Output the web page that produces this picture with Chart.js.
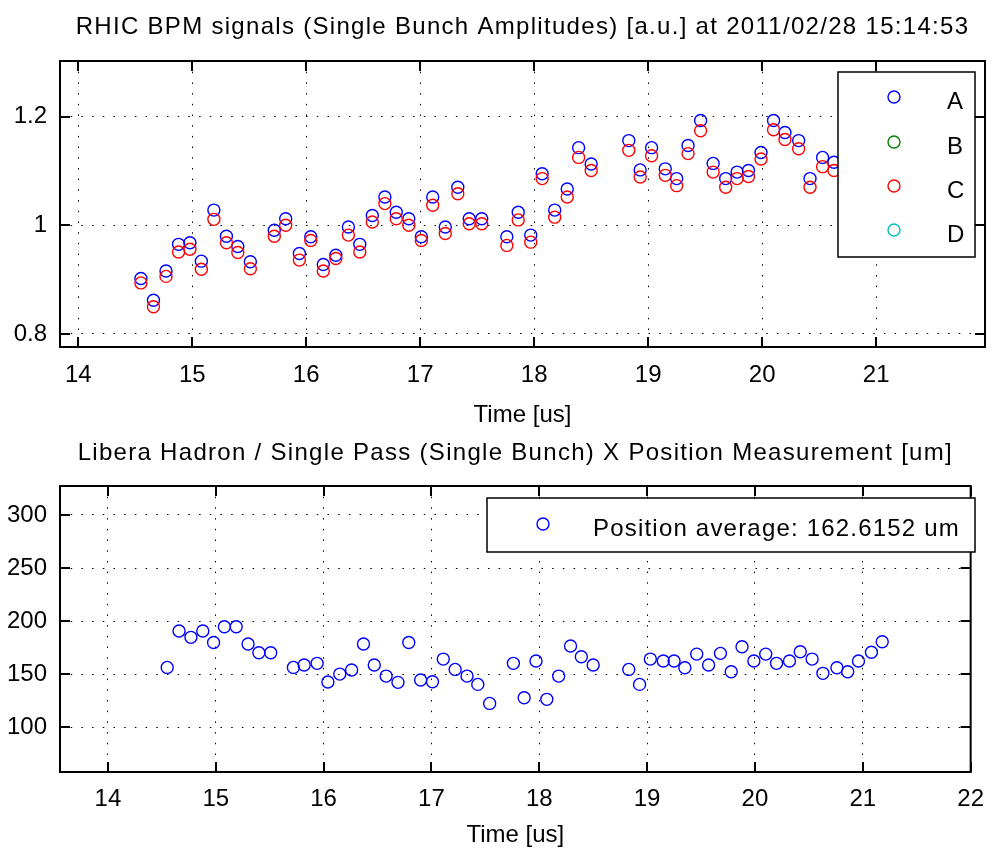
<!DOCTYPE html>
<html>
<head>
<meta charset="utf-8">
<script src="https://cdn.jsdelivr.net/npm/chart.js@4.4.1/dist/chart.umd.min.js"></script>
<style>
  html, body { margin: 0; padding: 0; background: #fff; }
  #wrap { position: relative; width: 997px; height: 859px; background: #fff; }
  canvas { position: absolute; left: 0; }
</style>
</head>
<body>
<div id="wrap">
  <canvas id="c1" width="997" height="430" style="top:0px"></canvas>
  <canvas id="c2" width="997" height="429" style="top:430px"></canvas>
</div>
<script>
// ---------------- data ----------------
const topTitle = 'RHIC BPM signals (Single Bunch Amplitudes) [a.u.] at 2011/02/28 15:14:53';
const bottomTitle = 'Libera Hadron / Single Pass (Single Bunch) X Position Measurement [um]';
const xAxisTitle = 'Time [us]';

// bunch times [us]
const times = [
  14.55, 14.66, 14.77, 14.88, 14.98, 15.08, 15.19, 15.30, 15.40, 15.51,
  15.72, 15.82, 15.94, 16.04, 16.15, 16.26, 16.37, 16.47, 16.58, 16.69,
  16.79, 16.90, 17.01, 17.11, 17.22, 17.33, 17.43, 17.54, 17.76, 17.86,
  17.97, 18.07, 18.18, 18.29, 18.39, 18.50, 18.83, 18.93, 19.03, 19.15,
  19.25, 19.35, 19.46, 19.57, 19.68, 19.78, 19.88, 19.99, 20.10, 20.20,
  20.32, 20.42, 20.53, 20.63, 20.76, 20.86, 20.96, 21.08, 21.18
];

// BPM amplitudes (last points hidden behind the legend -> null)
const ampA = [
  0.902, 0.862, 0.916, 0.965, 0.968, 0.934, 1.028, 0.980, 0.961, 0.933,
  0.991, 1.012, 0.948, 0.979, 0.928, 0.945, 0.997, 0.965, 1.018, 1.052,
  1.024, 1.012, 0.979, 1.052, 0.997, 1.070, 1.012, 1.012, 0.979, 1.024,
  0.982, 1.095, 1.028, 1.067, 1.143, 1.113, 1.156, 1.102, 1.143, 1.104,
  1.086, 1.147, 1.193, 1.114, 1.086, 1.098, 1.101, 1.134, 1.193, 1.171,
  1.156, 1.086, 1.125, 1.116, null, null, null, null, null
];
const ampB = [];   // not visible in the plot
const ampC = [
  0.894, 0.850, 0.906, 0.951, 0.956, 0.919, 1.011, 0.968, 0.950, 0.920,
  0.980, 1.000, 0.936, 0.972, 0.916, 0.939, 0.982, 0.951, 1.006, 1.040,
  1.012, 1.000, 0.972, 1.037, 0.985, 1.058, 1.003, 1.003, 0.963, 1.010,
  0.969, 1.086, 1.015, 1.052, 1.125, 1.101, 1.138, 1.089, 1.128, 1.092,
  1.073, 1.132, 1.174, 1.098, 1.070, 1.086, 1.090, 1.122, 1.176, 1.158,
  1.141, 1.070, 1.108, 1.101, null, null, null, null, null
];
const ampD = [];   // not visible in the plot
const seriesLabels = ['A', 'B', 'C', 'D'];

// X position [um]
const positionX = [
  156.5, 190.7, 184.8, 190.7, 180.0, 194.8, 194.8, 178.5, 170.3, 170.3,
  156.5, 158.7, 160.3, 142.7, 150.2, 154.0, 178.5, 158.7, 148.3, 142.4,
  180.0, 144.6, 143.0, 164.3, 154.6, 148.3, 140.5, 122.6, 160.3, 127.9,
  162.5, 126.4, 148.3, 176.6, 166.5, 158.7, 154.6, 140.5, 164.3, 162.5,
  162.5, 156.2, 169.0, 158.7, 169.7, 152.4, 176.0, 162.5, 169.0, 160.3,
  162.5, 171.2, 164.3, 150.9, 156.2, 152.4, 162.5, 170.7, 180.6
];
const positionLabel = 'Position average: 162.6152 um';

// tick labels
const topXTicks = [14, 15, 16, 17, 18, 19, 20, 21];
const topYTicks = [0.8, 1.0, 1.2];
const botXTicks = [14, 15, 16, 17, 18, 19, 20, 21, 22];
const botYTicks = [100, 150, 200, 250, 300];

// ---------------- helpers ----------------
const pts = arr => arr.map((v, i) => ({ x: times[i], y: v }));
const FONT = '"Liberation Sans", Arial, Helvetica, sans-serif';
Chart.defaults.font.family = FONT;
Chart.defaults.font.size = 24;
Chart.defaults.color = '#000';

// wider letter spacing for the chart title only
const spacingPlugin = {
  id: 'spacing',
  beforeDraw(chart) {
    const tb = chart.titleBlock;
    if (tb && !tb._spaced) {
      const orig = tb.draw;
      tb.draw = function (...args) {
        const ctx = this.ctx || chart.ctx;
        const prev = ctx.letterSpacing;
        ctx.letterSpacing = '1.3px';
        orig.apply(this, args);
        ctx.letterSpacing = prev || '0px';
      };
      tb._spaced = true;
    }
  }
};

const framePlugin = {
  id: 'frame',
  afterDatasetsDraw(chart) {
    const { ctx, chartArea: a, scales: { x, y } } = chart;
    const L = 10;
    ctx.save();
    ctx.strokeStyle = '#000';
    ctx.lineWidth = 2;
    ctx.strokeRect(a.left, a.top, a.right - a.left, a.bottom - a.top);
    ctx.beginPath();
    x.ticks.forEach(t => {
      const px = Math.round(x.getPixelForValue(t.value));
      ctx.moveTo(px, a.bottom); ctx.lineTo(px, a.bottom - L);
      ctx.moveTo(px, a.top); ctx.lineTo(px, a.top + L);
    });
    y.ticks.forEach(t => {
      const py = Math.round(y.getPixelForValue(t.value));
      ctx.moveTo(a.left, py); ctx.lineTo(a.left + L, py);
      ctx.moveTo(a.right, py); ctx.lineTo(a.right - L, py);
    });
    ctx.stroke();
    ctx.restore();
  }
};

const boxLegend = {
  id: 'boxLegend',
  afterDraw(chart, args, o) {
    if (!o || !o.box) return;
    const ctx = chart.ctx, b = o.box;
    ctx.save();
    ctx.fillStyle = '#fff';
    ctx.fillRect(b.l, b.t, b.r - b.l, b.b - b.t);
    ctx.strokeStyle = '#000';
    ctx.lineWidth = 1.5;
    ctx.strokeRect(b.l, b.t, b.r - b.l, b.b - b.t);
    ctx.font = '24px ' + FONT;
    ctx.letterSpacing = '1.2px';
    ctx.textAlign = 'left';
    ctx.textBaseline = 'middle';
    chart.data.datasets.forEach((ds, i) => {
      const y = o.rowY[i];
      ctx.beginPath();
      ctx.lineWidth = 1.4;
      ctx.strokeStyle = ds.borderColor;
      ctx.arc(o.markerX, y, 6, 0, Math.PI * 2);
      ctx.stroke();
      ctx.fillStyle = '#000';
      ctx.fillText(ds.label, o.textX, y + 5);
    });
    ctx.restore();
  }
};

function axisX(ticksArr, min, max, h, tickPad, titlePadBottom) {
  return {
    type: 'linear', position: 'bottom', min, max,
    afterBuildTicks: s => { s.ticks = ticksArr.map(v => ({ value: v })); },
    afterFit: s => { s.height = h; },
    ticks: { padding: tickPad, maxRotation: 0, autoSkip: false, callback: v => String(+(+v).toFixed(2)), color: '#000' },
    grid: { color: '#000', lineWidth: 1, drawTicks: false },
    border: { display: false, dash: [1.5, 9.2] },
    title: { display: true, text: xAxisTitle, color: '#000', font: { size: 24 }, padding: { top: 0, bottom: titlePadBottom } }
  };
}
function axisY(ticksArr, min, max) {
  return {
    type: 'linear', min, max,
    afterBuildTicks: s => { s.ticks = ticksArr.map(v => ({ value: v })); },
    afterFit: s => { s.width = 60; },
    ticks: { padding: 13, autoSkip: false, callback: v => String(+(+v).toFixed(2)), color: '#000' },
    grid: { color: '#000', lineWidth: 1, drawTicks: false },
    border: { display: false, dash: [1.5, 9.2] }
  };
}
const pointEl = { radius: 6, hoverRadius: 6, borderWidth: 1.4, hoverBorderWidth: 1.4, backgroundColor: 'rgba(0,0,0,0)', pointStyle: 'circle' };

// ---------------- top chart ----------------
new Chart(document.getElementById('c1'), {
  type: 'scatter',
  data: {
    datasets: [
      { label: seriesLabels[0], data: pts(ampA), borderColor: '#0000ff', order: 4 },
      { label: seriesLabels[1], data: pts(ampB), borderColor: '#008000', order: 3 },
      { label: seriesLabels[2], data: pts(ampC), borderColor: '#ff0000', order: 2 },
      { label: seriesLabels[3], data: pts(ampD), borderColor: '#00bfbf', order: 1 }
    ]
  },
  options: {
    responsive: false, animation: false, devicePixelRatio: 1,
    events: [],
    layout: { padding: { left: 0, right: 12, top: 0, bottom: 0 } },
    elements: { point: pointEl },
    plugins: {
      legend: { display: false },
      tooltip: { enabled: false },
      title: { display: true, fullSize: false, text: topTitle, color: '#000', font: { size: 24, weight: 'normal' }, padding: { top: 13, bottom: 19.2 } },
      boxLegend: { box: { l: 838, t: 72, r: 975, b: 257 }, markerX: 894, textX: 947, rowY: [97, 142, 186, 230] }
    },
    scales: {
      x: axisX(topXTicks, 13.84, 21.955, 83, 14, 0),
      y: axisY(topYTicks, 0.776, 1.3025)
    }
  },
  plugins: [spacingPlugin, framePlugin, boxLegend]
});

// ---------------- bottom chart ----------------
new Chart(document.getElementById('c2'), {
  type: 'scatter',
  data: {
    datasets: [
      { label: positionLabel, data: pts(positionX), borderColor: '#0000ff' }
    ]
  },
  options: {
    responsive: false, animation: false, devicePixelRatio: 1,
    events: [],
    layout: { padding: { left: 0, right: 15, top: 0, bottom: 0 } },
    elements: { point: pointEl },
    plugins: {
      legend: { display: false },
      tooltip: { enabled: false },
      title: { display: true, fullSize: false, text: bottomTitle, color: '#000', font: { size: 24, weight: 'normal' }, padding: { top: 9, bottom: 18.2 } },
      boxLegend: { box: { l: 487, t: 68, r: 975, b: 122 }, markerX: 543, textX: 593, rowY: [94] }
    },
    scales: {
      x: axisX(botXTicks, 13.556, 22, 87, 13, 9),
      y: axisY(botYTicks, 58, 327.3)
    }
  },
  plugins: [spacingPlugin, framePlugin, boxLegend]
});
</script>
</body>
</html>
